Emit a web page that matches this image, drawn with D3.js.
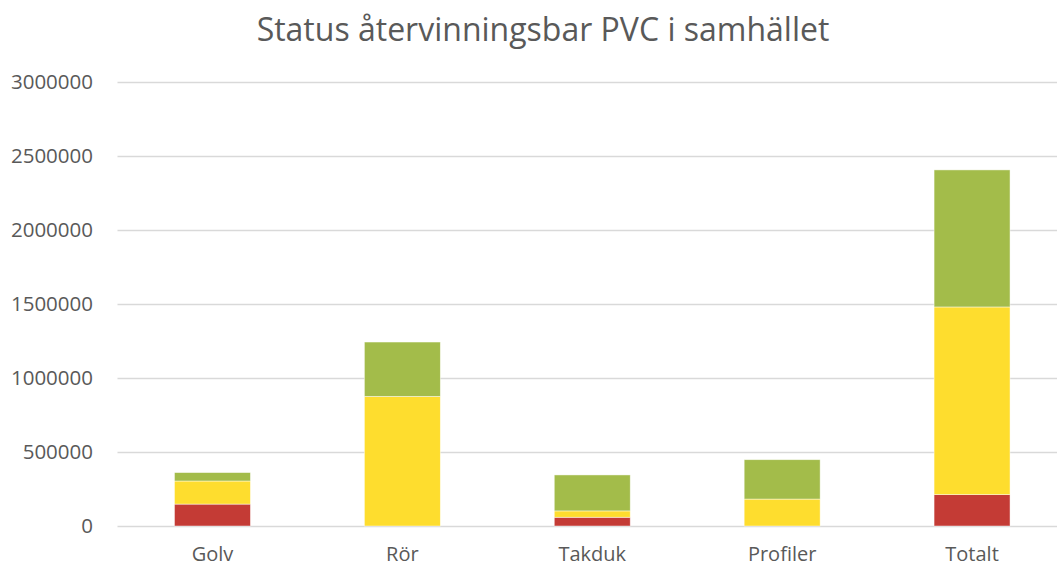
<!DOCTYPE html>
<html><head><meta charset="utf-8">
<script src="https://cdn.jsdelivr.net/npm/d3@7"></script>
<style>body{margin:0;background:#fff}svg{display:block}</style>
</head><body>
<svg id="c" width="1057" height="568"></svg>
<script>
const categories = ["Golv", "Rör", "Takduk", "Profiler", "Totalt"];
const redValues = [148000, 0, 59000, 0, 212000];
const yellowValues = [156000, 876000, 43000, 182000, 1268000];
const greenValues = [57000, 367000, 243000, 266000, 926000];
const yTicks = [0, 500000, 1000000, 1500000, 2000000, 2500000, 3000000];
const title = "Status återvinningsbar PVC i samhället";

const seriesKeys = ["red", "yellow", "green"];
const colors = {red: "#C43B35", yellow: "#FEDD2E", green: "#A3BC4A"};
const rows = categories.map((c, i) => ({cat: c, red: redValues[i], yellow: yellowValues[i], green: greenValues[i]}));

const svg = d3.select("#c");
const font = "'Open Sans', sans-serif";
const x = d3.scaleBand().domain(categories).range([117.5, 1067]).paddingInner(0.6).paddingOuter(0.3);
const y = d3.scaleLinear().domain([0, 3000000]).range([526, 82]);

svg.append("g").selectAll("line").data(yTicks).join("line")
  .attr("x1", 117.5).attr("x2", 1067)
  .attr("y1", d => Math.round(y(d)) + 0.5).attr("y2", d => Math.round(y(d)) + 0.5)
  .attr("stroke", "#d9d9d9").attr("stroke-width", 1.3);

const stack = d3.stack().keys(seriesKeys)(rows);
svg.append("g").selectAll("g").data(stack).join("g")
  .attr("fill", d => colors[d.key])
  .selectAll("rect").data(d => d).join("rect")
  .attr("x", d => x(d.data.cat))
  .attr("width", x.bandwidth())
  .attr("y", d => y(d[1]))
  .attr("height", d => Math.max(0, y(d[0]) - y(d[1])))
  .attr("stroke", "#ffffff").attr("stroke-opacity", 0.6).attr("stroke-width", 0.75);

const yAxis = d3.axisLeft(y).tickValues(yTicks).tickFormat(d3.format("d")).tickSize(0).tickPadding(0);
const ya = svg.append("g").attr("transform", "translate(93,0)").call(yAxis);
ya.select(".domain").remove();
ya.selectAll("text").attr("font-family", font).attr("font-size", 20.5).attr("fill", "#595959");

const xAxis = d3.axisBottom(x).tickSize(0).tickPadding(0);
const xa = svg.append("g").attr("transform", "translate(0,561)").call(xAxis);
xa.select(".domain").remove();
xa.selectAll("text").attr("font-family", font).attr("font-size", 20).attr("fill", "#595959").attr("dy", 0).attr("y", 0);

svg.append("text").attr("x", 543).attr("y", 41).attr("text-anchor", "middle")
  .attr("font-family", font).attr("font-size", 32).attr("fill", "#595959").text(title);
</script>
</body></html>
